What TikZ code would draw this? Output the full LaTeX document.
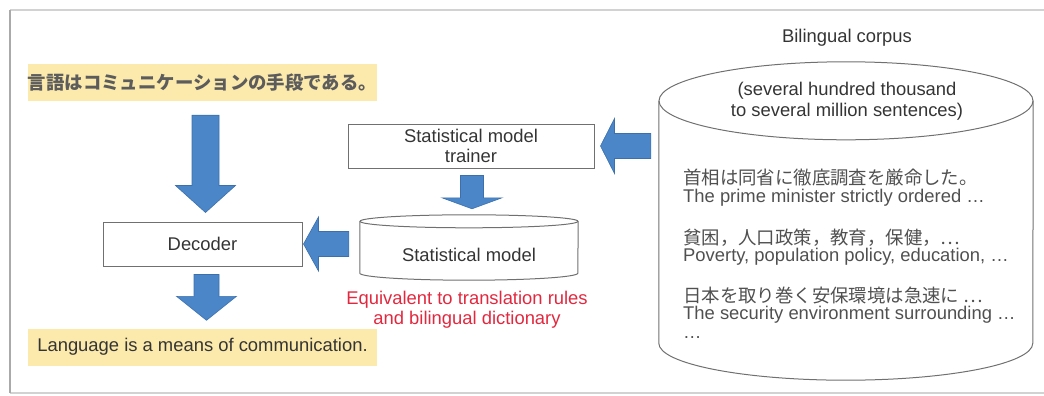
\documentclass[tikz,border=0pt]{standalone}
\usepackage{fontspec}
\setmainfont{Liberation Sans}
\newfontfamily\jpfont{Noto Sans CJK JP}
\usetikzlibrary{calc}

\definecolor{arrowblue}{RGB}{74,134,200}
\definecolor{arrowedge}{RGB}{60,112,172}
\definecolor{hilite}{RGB}{252,234,172}
\definecolor{txt}{RGB}{52,52,52}
\definecolor{jptxt}{RGB}{92,92,92}
\definecolor{lighttxt}{RGB}{80,80,80}
\definecolor{boxline}{RGB}{112,112,112}
\definecolor{notered}{RGB}{226,40,62}
\definecolor{framegray}{RGB}{210,210,210}
\definecolor{frameside}{RGB}{170,170,170}

% block arrow: start, tip, shaft half-width, head half-width, head length
\newcommand\barrowdraw[5]{%
  \filldraw[blockarrow]
    ($(#1)!#3!90:(#2)$)
    -- ($(#2)!#5!(#1)!#3!-90:(#1)$)
    -- ($(#2)!#5!(#1)!#4!-90:(#1)$)
    -- (#2)
    -- ($(#2)!#5!(#1)!#4!90:(#1)$)
    -- ($(#2)!#5!(#1)!#3!90:(#1)$)
    -- ($(#1)!#3!-90:(#2)$)
    -- cycle;}

\begin{document}
\begin{tikzpicture}[x=1pt,y=-1pt,
  every node/.style={font=\fontsize{18.4}{20}\selectfont, text=txt},
  hl/.style={fill=hilite, minimum width=349pt, minimum height=37pt, inner sep=0pt},
  plainbox/.style={draw=boxline, line width=1pt, minimum width=199pt, minimum height=44pt, inner sep=0pt, align=center},
  cylline/.style={draw=boxline, line width=1pt},
  blockarrow/.style={fill=arrowblue, draw=arrowedge, line width=0.6pt, line join=miter},
  corpusline/.style={anchor=west, inner sep=0pt, text=lighttxt, text height=13pt, text depth=4pt},
  framestyle/.style={draw=framegray, line width=1.5pt}]

\useasboundingbox (0,0) rectangle (1044,396);

% window frame
\draw[framestyle] (1044,10) -- (10,10);
\draw[framestyle] (10,393) -- (1044,393);
\draw[framestyle, draw=frameside] (10,10) -- (10,393);

% source and target sentences
\node[hl, text=jptxt] (jp) at (202.5,82.5) {\jpfont\bfseries 言語はコミュニケーションの手段である。};
\node[hl] (en) at (202.5,347) {Language is a means of communication.};

% processing boxes
\node[plainbox] (dec) at (202.5,244) {Decoder};
\node[plainbox, minimum width=246pt] (tr) at (471,146) {Statistical model\\trainer};

% statistical model drum
\node[inner sep=0pt, minimum width=218pt, minimum height=65pt] (sm) at (469,247.5) {};
\draw[cylline] ($(sm.north)+(0,6.5)$) ellipse [x radius=109pt, y radius=6.5pt];
\draw[cylline] ($(sm.north west)+(0,6.5)$) -- ($(sm.south west)+(0,-7)$)
  arc [start angle=180, end angle=360, x radius=109pt, y radius=7pt]
  -- ($(sm.north east)+(0,6.5)$);
\node (smlabel) at (469,255) {Statistical model};

\node[text=notered, align=center] (note) at (467,310) {Equivalent to translation rules\\and bilingual dictionary};

% bilingual corpus drum
\node[inner sep=0pt, minimum width=374pt, minimum height=318pt] (corp) at (846,221) {};
\draw[cylline] ($(corp.north)+(0,39)$) ellipse [x radius=187pt, y radius=39pt];
\draw[cylline] ($(corp.north west)+(0,39)$) -- ($(corp.south west)+(0,-37)$)
  arc [start angle=180, end angle=360, x radius=187pt, y radius=37pt]
  -- ($(corp.north east)+(0,39)$);
\node (corptitle) at (847,38) {Bilingual corpus};
\node[align=center, font=\fontsize{18.4}{21}\selectfont] (corpsize) at (847,101.5) {(several hundred thousand\\to several million sentences)};

\node[corpusline] (c1) at (683,180) {\jpfont 首相は同省に徹底調査を厳命した。};
\node[corpusline] (c2) at (683,198) {The prime minister strictly ordered …};
\node[corpusline] (c3) at (683,240) {\jpfont 貧困，人口政策，教育，保健，…};
\node[corpusline] (c4) at (683,257) {Poverty, population policy, education, …};
\node[corpusline] (c5) at (683,298) {\jpfont 日本を取り巻く安保環境は急速に …};
\node[corpusline] (c6) at (683,315) {The security environment surrounding …};
\node[corpusline] (c7) at (683,334) {…};

% arrow end points
\coordinate (a1s) at ($(jp.south)+(3,14)$);
\coordinate (a1e) at ($(dec.north)+(3,-9)$);
\coordinate (a2s) at ($(dec.south)+(4,8)$);
\coordinate (a2e) at ($(en.north)+(4,-8)$);
\coordinate (a3s) at ($(tr.south)+(1,7)$);
\coordinate (a3e) at ($(sm.north)+(3,-6)$);
\coordinate (a4e) at ($(dec.east)+(1,0)$);
\coordinate (a4s) at ($(a4e -| sm.west)+(-11,0)$);
\coordinate (a5e) at ($(tr.east)+(6,0)$);
\coordinate (a5s) at ($(a5e -| corp.west)+(-8,0)$);

\barrowdraw{a1s}{a1e}{13.5pt}{30pt}{27pt}
\barrowdraw{a2s}{a2e}{12.5pt}{30pt}{24pt}
\barrowdraw{a3s}{a3e}{11.5pt}{30pt}{11pt}
\barrowdraw{a4s}{a4e}{12.5pt}{27pt}{15pt}
\barrowdraw{a5s}{a5e}{12.5pt}{27.5pt}{14pt}

\end{tikzpicture}
\end{document}
